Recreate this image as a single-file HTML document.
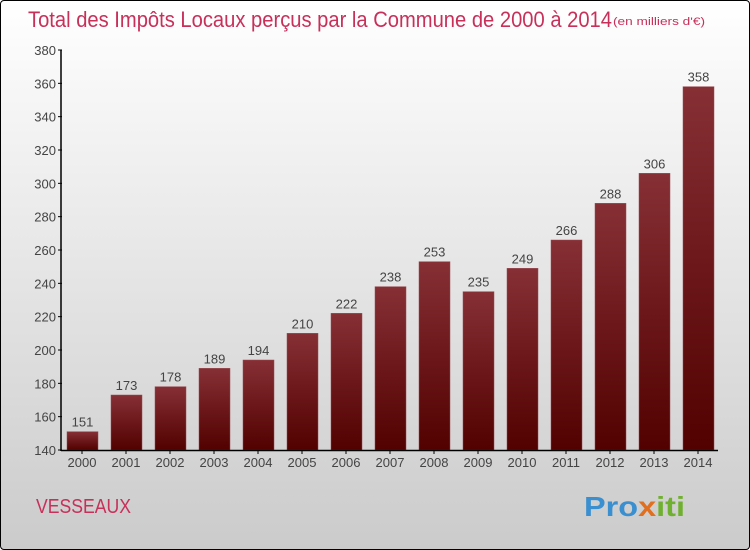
<!DOCTYPE html>
<html><head><meta charset="utf-8"><style>
body{margin:0;width:750px;height:550px;overflow:hidden;font-family:"Liberation Sans",sans-serif}
#wrap{position:absolute;left:0;top:0;width:748px;height:548px;border:1px solid #000;border-radius:4px;background:linear-gradient(#ffffff,#cbcbcb)}
</style></head><body>
<div id="wrap">
<svg id="c" width="750" height="550" style="position:absolute;left:-1px;top:-1px">
<defs><linearGradient id="g" x1="0" y1="0" x2="0" y2="1"><stop offset="0" stop-color="#863035"/><stop offset="1" stop-color="#520000"/></linearGradient></defs>
<text x="28" y="27" font-size="22" fill="#c8305a" textLength="584" lengthAdjust="spacingAndGlyphs">Total des Impôts Locaux perçus par la Commune de 2000 à 2014</text>
<text x="613" y="25" font-size="11" fill="#c8305a" textLength="92" lengthAdjust="spacingAndGlyphs">(en milliers d'€)</text>
<text x="36" y="513" font-size="20" fill="#c8305a" textLength="95" lengthAdjust="spacingAndGlyphs">VESSEAUX</text>
<text x="584" y="516" font-size="28" font-weight="bold" fill="#3a8fd0" textLength="101" lengthAdjust="spacingAndGlyphs">Pro<tspan fill="#e07020">x</tspan><tspan fill="#70b030">iti</tspan></text>
<g id="plot"></g>
</svg></div>
<script>
const years=["2000","2001","2002","2003","2004","2005","2006","2007","2008","2009","2010","2011","2012","2013","2014"];
const values=[151,173,178,189,194,210,222,238,253,235,249,266,288,306,358];
const yTicks=[140,160,180,200,220,240,260,280,300,320,340,360,380];
const NS="http://www.w3.org/2000/svg";
const g=document.getElementById('plot');
const y0=450,y1=50,vmin=140,vmax=380;
const y=v=>y0-(v-vmin)/(vmax-vmin)*(y0-y1);
const x=i=>82+i*44;
function mk(t,a,txt){const e=document.createElementNS(NS,t);for(const k in a)e.setAttribute(k,a[k]);if(txt!==undefined)e.textContent=txt;g.appendChild(e);return e;}
yTicks.forEach(v=>{
 let l=mk('line',{x1:58,x2:62,y1:y(v),y2:y(v),stroke:'#000'});
 
 
 let t=mk('text',{x:56,y:y(v)+5,'text-anchor':'end','font-size':13,fill:'#444'},v);
 
 
});
years.forEach((yr,i)=>{
 let r=mk('rect',{x:x(i)-15,y:y(values[i]),width:31,height:y0-y(values[i]),fill:'url(#g)',stroke:'#9a4a50','stroke-width':0.5});
 
 
 let v=mk('text',{x:x(i)+0.5,y:y(values[i])-5,'text-anchor':'middle','font-size':13,fill:'#444'},values[i]);
 
 
 let tk=mk('line',{x1:x(i),x2:x(i),y1:450,y2:454,stroke:'#000'});
 
 
 let t=mk('text',{x:x(i),y:467,'text-anchor':'middle','font-size':13,fill:'#444'},yr);
 
 
});
let ya=mk('line',{x1:61,x2:61,y1:50,y2:451,stroke:'#000','stroke-width':1.5});


let xa=mk('line',{x1:61,x2:718,y1:450.5,y2:450.5,stroke:'#000','stroke-width':1.5});


</script>
</body></html>
